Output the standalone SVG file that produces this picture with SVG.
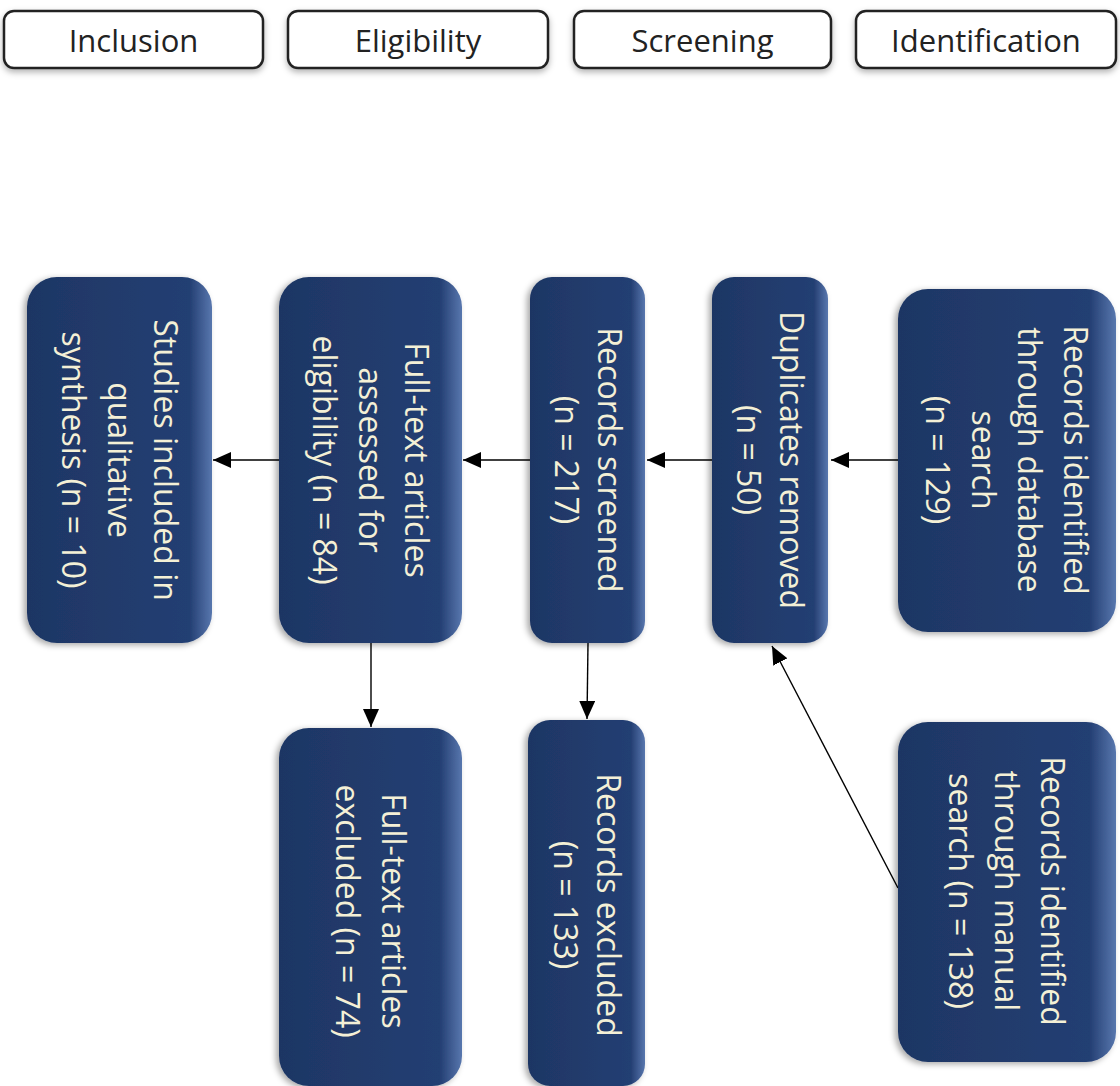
<svg xmlns="http://www.w3.org/2000/svg" width="1120" height="1086" viewBox="0 0 1120 1086">
<defs>
<linearGradient id="navy" x1="0" y1="0" x2="1" y2="0">
<stop offset="0" stop-color="#1e3664"/>
<stop offset="0.88" stop-color="#243f73"/>
<stop offset="1" stop-color="#5877ae"/>
</linearGradient>
<filter id="shadow" x="-10%" y="-10%" width="120%" height="120%">
<feDropShadow dx="-3" dy="2" stdDeviation="3" flood-color="#000" flood-opacity="0.35"/>
</filter>
<filter id="hshadow" x="-10%" y="-20%" width="120%" height="160%">
<feDropShadow dx="0" dy="3" stdDeviation="3" flood-color="#000" flood-opacity="0.3"/>
</filter>
<marker id="arrow" markerUnits="userSpaceOnUse" markerWidth="18" markerHeight="16" refX="18" refY="8" orient="auto">
<path d="M0,0 L18,8 L0,16 z" fill="#000"/>
</marker>
</defs>
<style>
.hbox{fill:#fff;stroke:#222;stroke-width:2.5;filter:url(#hshadow)}
.htxt{font-family:"Open Sans","Liberation Sans",sans-serif;font-size:31px;fill:#222;text-anchor:middle}
.node{fill:url(#navy);filter:url(#shadow)}
.ntxt{font-family:"Open Sans","Liberation Sans",sans-serif;font-size:32px;fill:#f4f0d6;text-anchor:middle}
.conn{stroke:#000;stroke-width:1.4;fill:none;marker-end:url(#arrow)}
</style>
<rect width="1120" height="1086" fill="#fff"/>

<g id="hdr-inclusion"><rect class="hbox" x="4" y="11" width="259" height="57" rx="10"/><text class="htxt" x="133.5" y="52">Inclusion</text></g>
<g id="hdr-eligibility"><rect class="hbox" x="288" y="11" width="260" height="57" rx="10"/><text class="htxt" x="418" y="52">Eligibility</text></g>
<g id="hdr-screening"><rect class="hbox" x="574" y="11" width="257" height="57" rx="10"/><text class="htxt" x="702.5" y="52">Screening</text></g>
<g id="hdr-identification"><rect class="hbox" x="856" y="11" width="260" height="57" rx="10"/><text class="htxt" x="986" y="52">Identification</text></g>

<g id="connectors">
<line class="conn" x1="898" y1="460" x2="831" y2="460"/>
<line class="conn" x1="712" y1="460" x2="647" y2="460"/>
<line class="conn" x1="530" y1="460" x2="463" y2="460"/>
<line class="conn" x1="279" y1="460" x2="213" y2="460"/>
<line class="conn" x1="371" y1="643" x2="371" y2="727"/>
<line class="conn" x1="588" y1="643" x2="587" y2="719"/>
<line class="conn" x1="898" y1="888" x2="772" y2="646"/>
</g>

<g id="n-database">
<rect class="node" x="898" y="289" width="218" height="343" rx="30"/>
<g transform="translate(1007,460) rotate(90)">
<text class="ntxt" x="0" y="-57">Records identified</text>
<text class="ntxt" x="0" y="-11">through database</text>
<text class="ntxt" x="0" y="35">search</text>
<text class="ntxt" x="0" y="81">(n = 129)</text>
</g>
</g>

<g id="n-duplicates">
<rect class="node" x="712" y="277" width="116" height="366" rx="22"/>
<g transform="translate(770,460) rotate(90)">
<text class="ntxt" x="0" y="-10">Duplicates removed</text>
<text class="ntxt" x="0" y="33">(n = 50)</text>
</g>
</g>

<g id="n-screened">
<rect class="node" x="530" y="277" width="115" height="366" rx="22"/>
<g transform="translate(587.5,460) rotate(90)">
<text class="ntxt" x="0" y="-10">Records screened</text>
<text class="ntxt" x="0" y="33">(n = 217)</text>
</g>
</g>

<g id="n-fulltext">
<rect class="node" x="279" y="277" width="183" height="366" rx="30"/>
<g transform="translate(370.5,460) rotate(90)">
<text class="ntxt" x="0" y="-34">Full-text articles</text>
<text class="ntxt" x="0" y="12">assessed for</text>
<text class="ntxt" x="0" y="58">eligibility (n = 84)</text>
</g>
</g>

<g id="n-studies">
<rect class="node" x="27" y="277" width="185" height="366" rx="30"/>
<g transform="translate(119.5,460) rotate(90)">
<text class="ntxt" x="0" y="-34">Studies included in</text>
<text class="ntxt" x="0" y="12">qualitative</text>
<text class="ntxt" x="0" y="58">synthesis (n = 10)</text>
</g>
</g>

<g id="n-ftexcluded">
<rect class="node" x="279" y="728" width="183" height="358" rx="30"/>
<g transform="translate(370.5,911) rotate(90)">
<text class="ntxt" x="0" y="-11">Full-text articles</text>
<text class="ntxt" x="0" y="35">excluded (n = 74)</text>
</g>
</g>

<g id="n-recexcluded">
<rect class="node" x="528" y="720" width="117" height="366" rx="22"/>
<g transform="translate(586.5,905) rotate(90)">
<text class="ntxt" x="0" y="-10">Records excluded</text>
<text class="ntxt" x="0" y="33">(n = 133)</text>
</g>
</g>

<g id="n-manual">
<rect class="node" x="898" y="722" width="218" height="340" rx="30"/>
<g transform="translate(1007,891) rotate(90)">
<text class="ntxt" x="0" y="-34">Records identified</text>
<text class="ntxt" x="0" y="12">through manual</text>
<text class="ntxt" x="0" y="58">search (n = 138)</text>
</g>
</g>
</svg>
